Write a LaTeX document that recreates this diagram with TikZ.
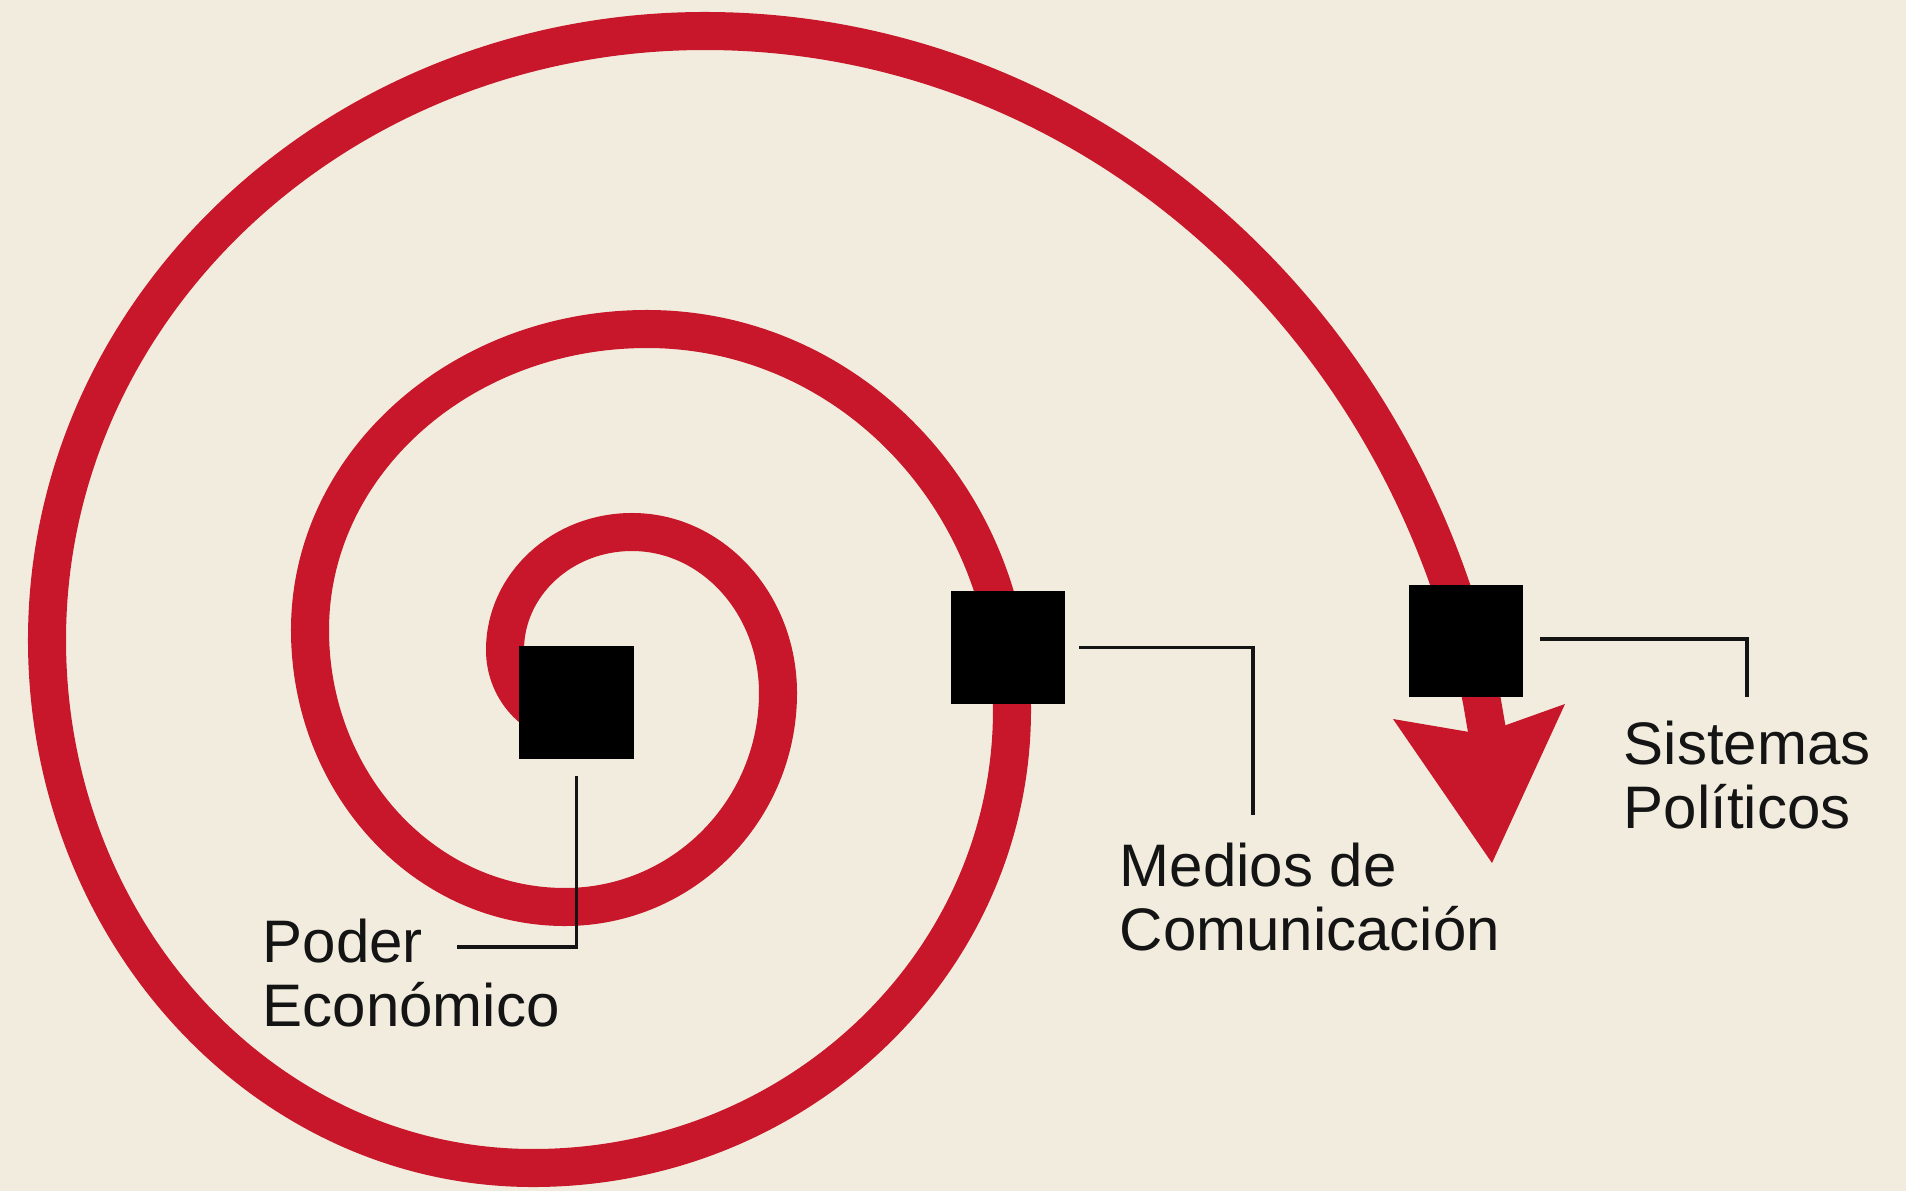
\documentclass[tikz,border=0pt]{standalone}
\usepackage{fontspec}
\setmainfont{Liberation Sans}
\definecolor{bg}{RGB}{242,236,222}
\definecolor{spiralred}{RGB}{200,22,42}
\definecolor{ink}{RGB}{20,20,20}
\begin{document}
\begin{tikzpicture}[x=0.01cm,y=-0.01cm,
  spiral/.style={draw=spiralred, line width=0.38cm, line cap=butt, line join=round},
  marker/.style={fill=black, inner sep=0pt, minimum width=1.14cm, minimum height=1.12cm},
  leader/.style={draw=ink, line width=1.1pt},
  lbl/.style={anchor=base west, inner sep=0pt, align=left, text=ink,
    font=\fontsize{17.07pt}{17.93pt}\selectfont}]
% background and bounding box
\fill[bg] (0,0) rectangle (1906,1191);
\useasboundingbox (0,0) rectangle (1906,1191);
% spiral
\path[spiral] (578,725)
  .. controls (537.7,725) and (505,691.4) .. (505,650)
  .. controls (505,584.8) and (561.9,532) .. (632,532)
  .. controls (712.6,532) and (778,604.1) .. (778,693)
  .. controls (778,811.2) and (682.6,907) .. (565,907)
  .. controls (424.2,907) and (310,783) .. (310,630)
  .. controls (310,463.8) and (460.9,329) .. (647,329)
  .. controls (848.6,329) and (1012,499.6) .. (1012,710)
  .. controls (1012,963) and (797.5,1168) .. (533,1168)
  .. controls (264.6,1168) and (47,931.6) .. (47,640)
  .. controls (47,303.7) and (341.6,31) .. (705,31)
  .. controls (1078.7,31) and (1402.1,309.5) .. (1481.7,699.9)
  -- (1490,748);
% arrowhead
\fill[spiralred] (1393,719) -- (1481,734) -- (1565,704) -- (1492,863) -- cycle;
% markers
\node[marker] (poder) at (576.5,702.5) {};
\node[marker] (medios) at (1008,647.5) {};
\node[marker] (sistemas) at (1466,641) {};
% labels (anchored at the baseline of the last line)
\node[lbl] (poderlbl) at (262,1026) {Poder\\Económico};
\node[lbl] (medioslbl) at (1119,950) {Medios de\\Comunicación};
\node[lbl] (sistemaslbl) at (1623,828) {Sistemas\\Políticos};
% leader end points
\coordinate (poderend) at (457,947);
\coordinate (mediosend) at (1253,815);
\coordinate (sistemasend) at (1747,697);
% leaders
\draw[leader] ([yshift=-0.17cm]poder.south) |- (poderend);
\draw[leader] ([xshift=0.13cm]medios.east) -| (mediosend);
\draw[leader] ([xshift=0.16cm,yshift=0.02cm]sistemas.east) -| (sistemasend);
\end{tikzpicture}
\end{document}
